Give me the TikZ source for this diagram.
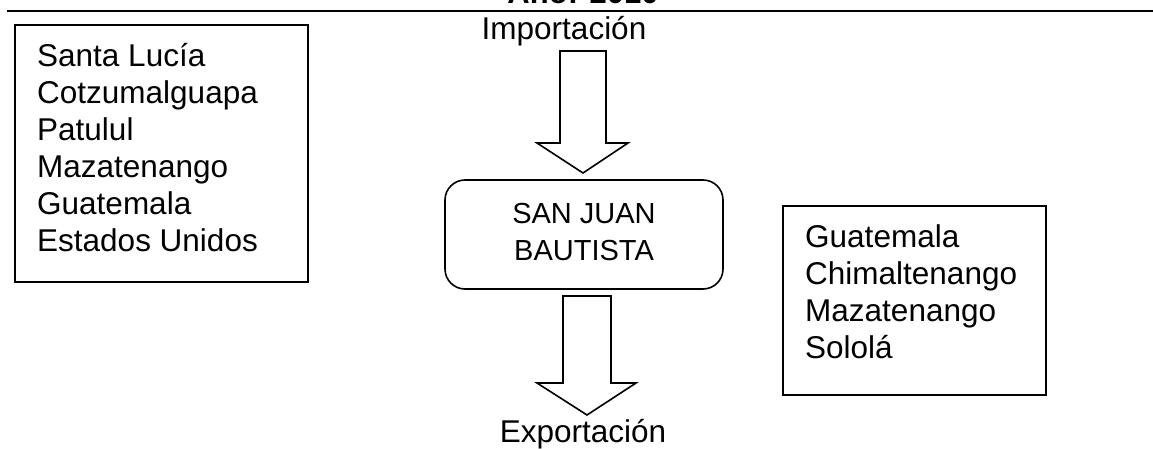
\documentclass[tikz,border=0pt]{standalone}
\usepackage{fontspec}
\setmainfont{Liberation Sans}
\usetikzlibrary{positioning}

\begin{document}
\begin{tikzpicture}[
    x=1pt,y=-1pt,
    font=\fontsize{31.5}{37}\selectfont,
    frame/.style={draw,line width=1.6pt,inner sep=0pt},
    place/.style={anchor=north west,align=left,inner sep=0pt},
    label/.style={anchor=base,inner sep=0pt},
    block/.style={draw,line width=1.6pt,line join=miter}
]
\useasboundingbox (0,0) rectangle (1153,449);

% === Title (cut at the top) ===
\node[label,font=\fontsize{31}{37}\selectfont\bfseries] (year) at (583,4) {Año: 2010};
\coordinate (ruleL) at (7,11);
\coordinate (ruleR) at (1153,11);
\draw[line width=2pt] (ruleL) -- (ruleR);

% === Origins ===
\node[frame,minimum width=293pt,minimum height=257pt] (from) at (161.5,153.5) {};
\node[place] (fromlist) at (37,43) {Santa Lucía\\Cotzumalguapa\\Patulul\\Mazatenango\\Guatemala\\Estados Unidos};

% === Destinations ===
\node[frame,minimum width=263pt,minimum height=189pt] (to) at (914.5,300.5) {};
\node[place] (tolist) at (805,224.5) {Guatemala\\Chimaltenango\\Mazatenango\\Sololá};

% === Municipality ===
\node[frame,rounded corners=20pt,minimum width=278pt,minimum height=109pt,
      align=center,font=\fontsize{29}{37}\selectfont] (SJB) at (584,234.5) {};
\node[align=center,inner sep=0pt,font=\fontsize{29}{37}\selectfont] (SJBtext) at (584,232.5) {SAN JUAN\\BAUTISTA};

% === Labels ===
\node[label] (imp) at (564,40) {Importación};
\node[label] (exp) at (583,442) {Exportación};

% === Block arrows ===
\draw[block] (560,51) -- (606,51) -- (606,143) -- (628,143) -- (583,173)
    -- (537,143) -- (560,143) -- cycle;   % imp -> SJB
\draw[block] (563,296) -- (611,296) -- (611,383) -- (636,383) -- (587,415)
    -- (537,383) -- (563,383) -- cycle;   % SJB -> exp

\end{tikzpicture}
\end{document}
